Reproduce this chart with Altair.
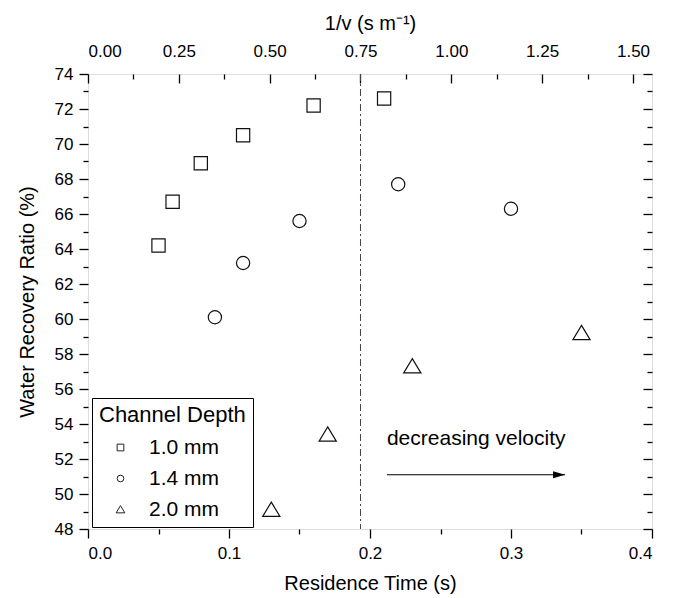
import altair as alt
import pandas as pd

# ---- data ----
depth_labels = ["1.0 mm", "1.4 mm", "2.0 mm"]
time_10 = [0.05, 0.06, 0.08, 0.11, 0.16, 0.21]
ratio_10 = [64.2, 66.7, 68.9, 70.5, 72.2, 72.6]
time_14 = [0.09, 0.11, 0.15, 0.22, 0.30]
ratio_14 = [60.1, 63.2, 65.6, 67.7, 66.3]
time_20 = [0.13, 0.17, 0.23, 0.35]
ratio_20 = [49.1, 53.4, 57.3, 59.2]

x_major = [0.0, 0.1, 0.2, 0.3, 0.4]
x_minor = [0.05, 0.15, 0.25, 0.35]
y_major = list(range(48, 75, 2))
y_minor = list(range(49, 74, 2))
top_major = [0.0, 0.25, 0.5, 0.75, 1.0, 1.25, 1.5]
top_minor = [0.125, 0.375, 0.625, 0.875, 1.125, 1.375]

divider_inv_v = [0.75]
arrow_inv_v = [0.823, 1.313]
arrow_ratio = [51.1]
note_text = ["decreasing velocity"]
note_time = [0.212]
note_ratio = [52.8]

X_DOM = [0.0, 0.4]
Y_DOM = [48, 74]
TOP_DOM = [0.0, 1.5523]
FONT = "Liberation Sans"

rows = []
for lab, ts, rs in [(depth_labels[0], time_10, ratio_10),
                    (depth_labels[1], time_14, ratio_14),
                    (depth_labels[2], time_20, ratio_20)]:
    for t, r in zip(ts, rs):
        rows.append({"time": t, "ratio": r, "depth": lab})
pts = pd.DataFrame(rows)

tick_common = dict(grid=False, domain=False, tickColor="black", tickWidth=1.3,
                   labelFont=FONT, labelFontSize=17, labelColor="black",
                   titleFont=FONT, titleFontSize=20, titleFontWeight="normal",
                   titleColor="black")

def xs(dom):
    return alt.Scale(domain=dom, nice=False, zero=False)

tri_path = "M0,-1.15L1.3,1.0L-1.3,1.0Z"

points = alt.Chart(pts).mark_point(filled=False, size=175, strokeWidth=1.2, color="#111", opacity=1).encode(
    x=alt.X("time:Q", scale=xs(X_DOM),
            axis=alt.Axis(orient="bottom", values=x_major, format=".1f", tickSize=9,
                          labelPadding=7, title="Residence Time (s)", titlePadding=12, **tick_common)),
    y=alt.Y("ratio:Q", scale=xs(Y_DOM),
            axis=alt.Axis(orient="left", values=y_major, format="d", tickSize=9,
                          labelPadding=6, title="Water Recovery Ratio (%)", titlePadding=17, **tick_common)),
    shape=alt.Shape("depth:N", scale=alt.Scale(domain=depth_labels, range=["square", "circle", tri_path]),
                    legend=alt.Legend(title="Channel Depth", orient="none", legendX=4, legendY=324,
                                      padding=7, strokeColor="black", fillColor="white",
                                      titleFont=FONT, titleFontSize=22, titleFontWeight="normal",
                                      titleColor="black", titlePadding=10,
                                      labelFont=FONT, labelFontSize=21, labelColor="black",
                                      symbolSize=45, symbolStrokeWidth=1, symbolStrokeColor="#222",
                                      symbolOffset=11, labelOffset=18, rowPadding=9,
                                      symbolType="square")),
)

arrow_df = pd.DataFrame({"x": [arrow_inv_v[0]], "x2": [arrow_inv_v[1]], "y": arrow_ratio})
arrow = alt.Chart(arrow_df).mark_rule(color="black", strokeWidth=1.2).encode(
    x=alt.X("x:Q", scale=xs(TOP_DOM),
            axis=alt.Axis(orient="top", values=top_minor, labels=False, tickSize=5, offset=-5, title=None, **tick_common)),
    x2="x2:Q",
    y=alt.Y("y:Q", scale=xs(Y_DOM),
            axis=alt.Axis(orient="left", values=y_minor, labels=False, tickSize=5, title=None, **tick_common)),
)

head_df = pd.DataFrame({"x": [arrow_inv_v[1]], "y": arrow_ratio})
head = alt.Chart(head_df).mark_point(filled=True, color="black", size=144, opacity=1,
                                     shape="M-2,-0.6L0,0L-2,0.6Z").encode(
    x=alt.X("x:Q", scale=xs(TOP_DOM), axis=None),
    y=alt.Y("y:Q", scale=xs(Y_DOM),
            axis=alt.Axis(orient="right", values=y_major, labels=False, tickSize=9, offset=-9, title=None, **tick_common)),
)

note_df = pd.DataFrame({"x": note_time, "y": note_ratio, "t": note_text})
note = alt.Chart(note_df).mark_text(align="left", baseline="alphabetic", font=FONT, fontSize=21, color="black").encode(
    x=alt.X("x:Q", scale=xs(X_DOM),
            axis=alt.Axis(orient="bottom", values=x_minor, labels=False, tickSize=5, title=None, **tick_common)),
    y=alt.Y("y:Q", scale=xs(Y_DOM),
            axis=alt.Axis(orient="right", values=y_minor, labels=False, tickSize=5, offset=-5, title=None, **tick_common)),
    text="t:N",
)

div_df = pd.DataFrame({"v": divider_inv_v})
divider = alt.Chart(div_df).mark_rule(color="#444", strokeWidth=1, strokeDash=[7, 3, 2, 3]).encode(
    x=alt.X("v:Q", scale=xs(TOP_DOM),
            axis=alt.Axis(orient="top", values=top_major, format=".2f", tickSize=9, offset=-9,
                          labelPadding=14, title="1/v (s m\u207b\u00b9)", titlePadding=9, **tick_common)),
)

chart = alt.layer(points, arrow, head, note, divider).resolve_scale(
    x="independent", y="independent"
).resolve_axis(x="independent", y="independent").properties(
    width=564, height=455,
    autosize=alt.AutoSizeParams(type="none"),
    padding={"left": 80, "top": 66, "right": 16, "bottom": 68},
).configure_view(stroke="black", strokeWidth=1.4).configure(background="white")

chart.save("out.html", embed_options={"renderer": "svg", "actions": False})
